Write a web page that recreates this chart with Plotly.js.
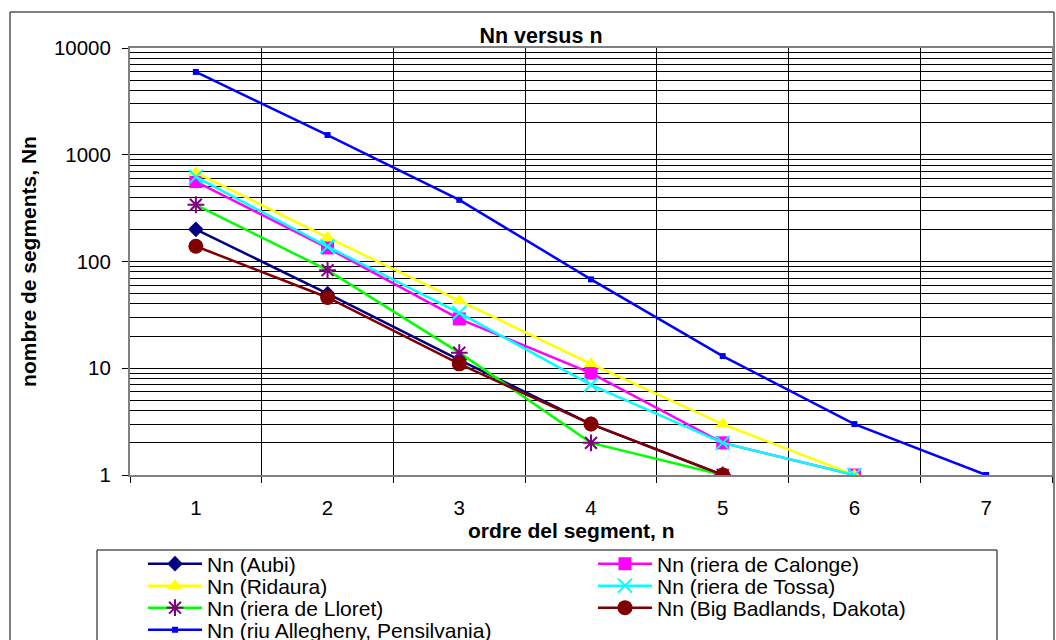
<!DOCTYPE html>
<html>
<head>
<meta charset="utf-8">
<script src="https://cdn.plot.ly/plotly-3.0.1.min.js"></script>
<style>html,body{margin:0;padding:0;background:#fff;}#chart{width:1056px;height:640px;}</style>
</head>
<body>
<div id="chart"></div>
<script>
// ---- data ----
const orderN = [1, 2, 3, 4, 5, 6, 7];
const tickLabelsX = ['1', '2', '3', '4', '5', '6', '7'];
const tickValsY = [1, 10, 100, 1000, 10000];
const tickLabelsY = ['1', '10', '100', '1000', '10000'];

const nnAubi      = [200, 50, 12, 3, 1];
const nnCalonge   = [560, 134, 29, 9, 2, 1];
const nnRidaura   = [680, 168, 43, 11, 3, 1];
const nnTossa     = [620, 138, 33, 7, 2, 1];
const nnLloret    = [340, 83, 14, 2, 1];
const nnBadlands  = [139, 46, 11, 3, 1];
const nnAllegheny = [5966, 1529, 378, 68, 13, 3, 1];

const seriesNames = [
  'Nn (Aubi)', 'Nn (riera de Calonge)', 'Nn (Ridaura)', 'Nn (riera de Tossa)',
  'Nn (riera de Lloret)', 'Nn (Big Badlands, Dakota)', 'Nn (riu Allegheny, Pensilvania)'
];

// ---- styling ----
const FONT = 'Liberation Sans, Arial, sans-serif';
const seriesValues = [nnAubi, nnCalonge, nnRidaura, nnTossa, nnLloret, nnBadlands, nnAllegheny];
const styles = [
  {line: '#000080', mcol: '#000080', sym: 'diamond', size: 12},
  {line: '#FF00FF', mcol: '#FF00FF', sym: 'square', size: 13},
  {line: '#FFFF00', mcol: '#FFFF00', sym: 'triangle-up', size: 13},
  {line: '#00FFFF', mcol: '#00FFFF', sym: 'x-thin-open', size: 14, open: true},
  {line: '#00FF00', mcol: '#800080', sym: 'asterisk-open', size: 14, open: true},
  {line: '#800000', mcol: '#800000', sym: 'circle', size: 15},
  {line: '#0000FF', mcol: '#0000FF', sym: 'square', size: 6}
];

const W = 1056, H = 640;
const M = {l: 130, r: 4, t: 48, b: 165};
const PW = W - M.l - M.r, PH = H - M.t - M.b;
const px2x = p => (p - M.l) / PW;
const py2y = p => (H - M.b - p) / PH;

// legend slots (two columns, rows top to bottom)
const colX = [143, 593];
const rowY = [564, 586, 608, 630];

const traces = [];
const layoutLegends = {};
seriesValues.forEach((vals, i) => {
  const s = styles[i];
  const legendId = i === 0 ? 'legend' : 'legend' + (i + 1);
  traces.push({
    type: 'scatter',
    mode: 'lines+markers',
    name: seriesNames[i],
    x: orderN.slice(0, vals.length),
    y: vals,
    legend: legendId,
    line: {color: s.line, width: 2.5},
    marker: s.open
      ? {symbol: s.sym, size: s.size, color: s.mcol, line: {color: s.mcol, width: 2}}
      : {symbol: s.sym, size: s.size, color: s.mcol, line: {width: 0}},
    hoverinfo: 'x+y+name'
  });
  layoutLegends[legendId] = {
    x: px2x(colX[i % 2]), y: py2y(rowY[Math.floor(i / 2)]),
    xanchor: 'left', yanchor: 'middle',
    bgcolor: 'rgba(0,0,0,0)', borderwidth: 0,
    itemwidth: 54,
    font: {family: FONT, size: 21, color: 'black'}
  };
});

const minorX = orderN.map(v => v - 0.5).concat([orderN[orderN.length - 1] + 0.5]);

const layout = Object.assign({
  width: W, height: H,
  margin: {l: M.l, r: M.r, t: M.t, b: M.b, autoexpand: false},
  paper_bgcolor: '#ffffff', plot_bgcolor: '#ffffff',
  font: {family: FONT, size: 20, color: '#000000'},
  showlegend: true,
  title: {
    text: '<b>Nn versus n</b>',
    font: {family: FONT, size: 21.5, color: '#000000'},
    xref: 'paper', x: px2x(541), xanchor: 'center',
    yref: 'container', y: 1 - 35 / H, yanchor: 'middle'
  },
  xaxis: {
    range: [0.5, 7.5], tickmode: 'array', tickvals: orderN, ticktext: tickLabelsX,
    ticks: '', showgrid: false, zeroline: false,
    showline: true, linecolor: '#808080', linewidth: 2, mirror: true,
    ticklabelstandoff: 13,
    tickfont: {family: FONT, size: 20.5, color: '#000000'},
    minor: {tickmode: 'array', tickvals: minorX, ticks: 'outside', ticklen: 6, tickcolor: '#000000',
            tickwidth: 1, showgrid: true, gridcolor: '#000000', gridwidth: 1}
  },
  yaxis: {
    type: 'log', range: [0, 4], tickmode: 'array', tickvals: tickValsY, ticktext: tickLabelsY,
    ticks: 'outside', ticklen: 6, tickcolor: '#000000', tickwidth: 1,
    showgrid: true, gridcolor: '#000000', gridwidth: 1, zeroline: false,
    showline: true, linecolor: '#808080', linewidth: 2, mirror: true,
    ticklabelstandoff: 7,
    tickfont: {family: FONT, size: 20.5, color: '#000000'},
    minor: {dtick: 'D1', showgrid: true, gridcolor: '#000000', gridwidth: 1, ticks: ''},
    title: {text: '<b>nombre de segments, Nn</b>', font: {family: FONT, size: 21, color: '#000000'}, standoff: 12}
  },
  annotations: [
    {text: '<b>ordre del segment, n</b>', xref: 'paper', yref: 'paper',
     x: px2x(571), y: py2y(530), xanchor: 'center', yanchor: 'middle', showarrow: false,
     font: {family: FONT, size: 21, color: '#000000'}}
  ],
  shapes: [
    // outer chart border
    {type: 'rect', xref: 'paper', yref: 'paper', layer: 'below',
     x0: px2x(10), x1: px2x(1054), y0: py2y(700), y1: py2y(12),
     line: {color: '#000000', width: 1}, fillcolor: 'rgba(0,0,0,0)'},
    // legend box
    {type: 'rect', xref: 'paper', yref: 'paper', layer: 'below',
     x0: px2x(97), x1: px2x(997), y0: py2y(700), y1: py2y(550),
     line: {color: '#000000', width: 1}, fillcolor: 'rgba(0,0,0,0)'}
  ]
}, layoutLegends);

Plotly.newPlot('chart', traces, layout, {displayModeBar: false, staticPlot: true});
</script>
</body>
</html>
